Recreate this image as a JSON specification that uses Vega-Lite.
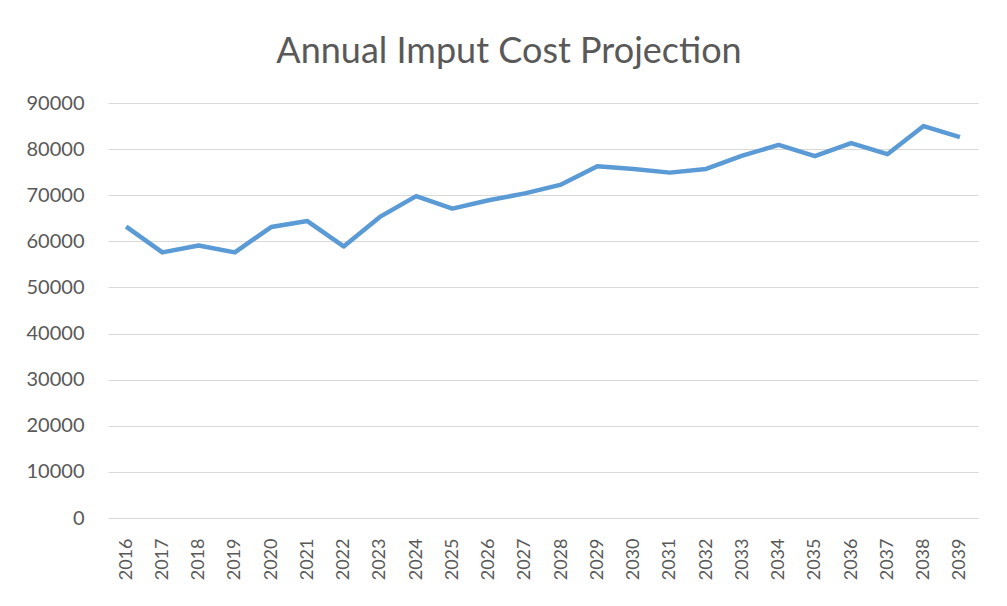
{
  "$schema": "https://vega.github.io/schema/vega-lite/v6.json",
  "autosize": {"type": "none"},
  "width": 870,
  "height": 415,
  "padding": {"left": 108, "top": 103, "right": 29, "bottom": 88},
  "background": "white",
  "title": {
    "text": "Annual Imput Cost Projection",
    "fontSize": 36,
    "font": "Lato",
    "fontWeight": "normal",
    "color": "#595959",
    "anchor": "middle",
    "frame": "group",
    "baseline": "alphabetic",
    "dx": -34,
    "offset": -6
  },
  "data": {
    "values": [
      {"year": "2016", "cost": 63200},
      {"year": "2017", "cost": 57600},
      {"year": "2018", "cost": 59100},
      {"year": "2019", "cost": 57600},
      {"year": "2020", "cost": 63100},
      {"year": "2021", "cost": 64400},
      {"year": "2022", "cost": 58900},
      {"year": "2023", "cost": 65300},
      {"year": "2024", "cost": 69800},
      {"year": "2025", "cost": 67100},
      {"year": "2026", "cost": 68900},
      {"year": "2027", "cost": 70400},
      {"year": "2028", "cost": 72300},
      {"year": "2029", "cost": 76300},
      {"year": "2030", "cost": 75700},
      {"year": "2031", "cost": 74900},
      {"year": "2032", "cost": 75700},
      {"year": "2033", "cost": 78600},
      {"year": "2034", "cost": 80900},
      {"year": "2035", "cost": 78500},
      {"year": "2036", "cost": 81300},
      {"year": "2037", "cost": 78900},
      {"year": "2038", "cost": 85000},
      {"year": "2039", "cost": 82600}
    ]
  },
  "mark": {"type": "line", "color": "#5B9BD5", "strokeWidth": 4.5, "strokeJoin": "round", "strokeCap": "butt"},
  "encoding": {
    "x": {
      "field": "year",
      "type": "ordinal",
      "scale": {"paddingInner": 1, "paddingOuter": 0.5},
      "axis": {
        "title": null,
        "labelAngle": -90,
        "labelFontSize": 18,
        "labelFont": "Lato",
        "labelColor": "#595959",
        "ticks": false,
        "domain": false,
        "labelPadding": 20,
        "grid": false
      }
    },
    "y": {
      "field": "cost",
      "type": "quantitative",
      "scale": {"domain": [0, 90000], "nice": false, "zero": true},
      "axis": {
        "title": null,
        "values": [0, 10000, 20000, 30000, 40000, 50000, 60000, 70000, 80000, 90000],
        "labelFontSize": 20,
        "labelFont": "Lato",
        "labelColor": "#595959",
        "format": "d",
        "ticks": false,
        "domain": false,
        "labelPadding": 24,
        "grid": true,
        "gridColor": "#D9D9D9",
        "gridWidth": 1
      }
    }
  },
  "config": {"view": {"stroke": null}}
}
